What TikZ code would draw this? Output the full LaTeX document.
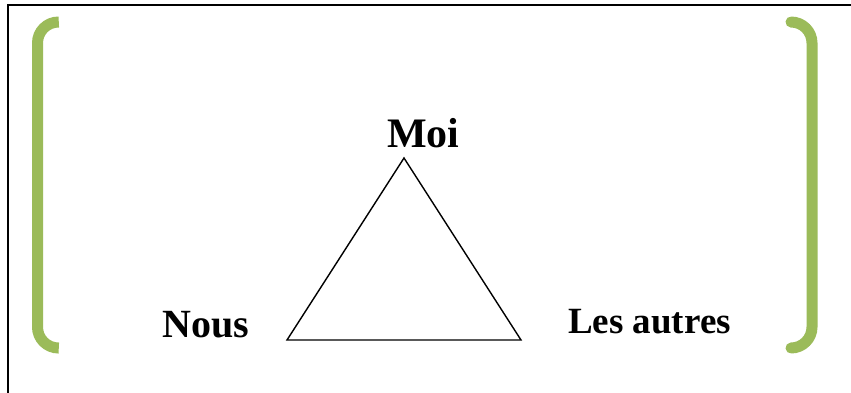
\documentclass[tikz,border=0pt]{standalone}
\usepackage{fontspec}
\setmainfont{Liberation Serif}
\definecolor{bracketgreen}{RGB}{155,187,89}
\tikzset{
  lbl/.style={anchor=base, inner sep=0pt, font=\bfseries},
  brk/.style={draw=bracketgreen, line width=11pt, line cap=round, rounded corners=21pt},
  tri/.style={draw=black, line width=1.4pt, line join=miter},
}
\begin{document}
\begin{tikzpicture}[x=1pt,y=-1pt]
\useasboundingbox (0,0) rectangle (851,392);
\fill[white] (0,0) rectangle (851,392);
% outer frame (right and bottom edges lie outside the picture)
\draw[line width=2pt, black] (7.5,400) -- (7.5,5) -- (860,5);
% brackets
\draw[brk] (58,22) -- (37.5,22) -- (37.5,348) -- (58,348);
\draw[brk] (791,22) -- (812,22) -- (812,348) -- (791,348);
% triangle
\coordinate (top) at (404,158);
\coordinate (bl) at (287,340);
\coordinate (br) at (521,340);
\draw[tri] (top) -- (bl) -- (br) -- cycle;
% labels
\node[lbl, font=\fontsize{42}{48}\selectfont\bfseries] (moi) at (423.5,147) {Moi};
\node[lbl, font=\fontsize{40}{48}\selectfont\bfseries] (nous) at (206,337) {Nous};
\node[lbl, font=\fontsize{37}{44}\selectfont\bfseries] (autres) at (649.5,333) {Les autres};
\end{tikzpicture}
\end{document}
